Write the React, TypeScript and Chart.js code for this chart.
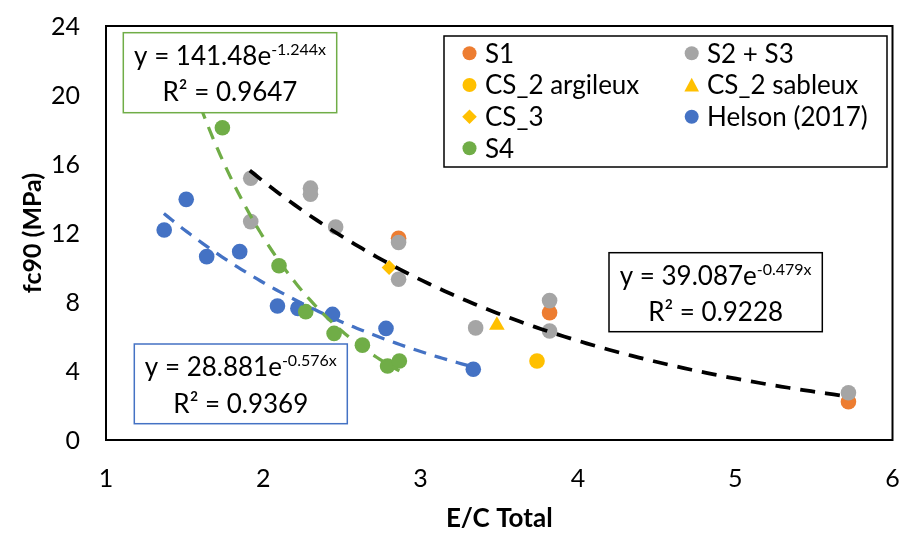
import React, { useEffect, useRef } from "react";
import { Chart, registerables } from "chart.js";

Chart.register(...registerables);

// ---- data ----
const S1_X = [2.86, 3.82, 5.72];
const S1_Y = [11.7, 7.38, 2.22];
const S23_X = [1.92, 1.92, 2.3, 2.3, 2.46, 2.86, 2.86, 3.35, 3.82, 3.82, 5.72];
const S23_Y = [15.17, 12.66, 14.6, 14.25, 12.35, 11.45, 9.32, 6.5, 8.08, 6.32, 2.74];
const CS2A_X = [3.74];
const CS2A_Y = [4.58];
const CS2S_X = [3.485];
const CS2S_Y = [6.65];
const CS3_X = [2.8];
const CS3_Y = [10.0];
const HEL_X = [1.37, 1.51, 1.64, 1.85, 2.09, 2.22, 2.44, 2.78, 3.335];
const HEL_Y = [12.17, 13.95, 10.63, 10.92, 7.77, 7.63, 7.28, 6.47, 4.1];
const S4_X = [1.74, 2.1, 2.27, 2.45, 2.63, 2.79, 2.865];
const S4_Y = [18.1, 10.1, 7.44, 6.18, 5.5, 4.29, 4.58];

// exponential trendlines y = a * e^(b x), as printed on the chart
const TREND_NAMES = ["S4 fit", "Helson fit", "S fit"];
const TREND_A = [141.48, 28.881, 39.087];
const TREND_B = [-1.244, -0.576, -0.479];
const TREND_R2 = ["0.9647", "0.9369", "0.9228"];
const TREND_FROM = [1.6, 1.368, 1.914];
const TREND_TO = [2.865, 3.335, 5.72];
const TREND_COLORS = ["#70AD47", "#4472C4", "#000000"];

const X_TICKS = [1, 2, 3, 4, 5, 6];
const Y_TICKS = [0, 4, 8, 12, 16, 20, 24];

const FONT = "Lato";

function pts(xs: number[], ys: number[]) {
  return xs.map((x, i) => ({ x, y: ys[i] }));
}

function trendPts(i: number) {
  const out: { x: number; y: number }[] = [];
  const n = 80;
  for (let k = 0; k <= n; k++) {
    const x = TREND_FROM[i] + ((TREND_TO[i] - TREND_FROM[i]) * k) / n;
    out.push({ x, y: TREND_A[i] * Math.exp(TREND_B[i] * x) });
  }
  return out;
}

type Marker = "circle" | "triangle" | "rectRot";

function drawMarker(ctx: CanvasRenderingContext2D, kind: Marker, x: number, y: number, r: number, color: string) {
  ctx.save();
  ctx.fillStyle = color;
  ctx.beginPath();
  if (kind === "circle") {
    ctx.arc(x, y, r, 0, Math.PI * 2);
  } else if (kind === "triangle") {
    ctx.moveTo(x, y - r);
    ctx.lineTo(x + r, y + r * 0.9);
    ctx.lineTo(x - r, y + r * 0.9);
    ctx.closePath();
  } else {
    ctx.moveTo(x, y - r);
    ctx.lineTo(x + r, y);
    ctx.lineTo(x, y + r);
    ctx.lineTo(x - r, y);
    ctx.closePath();
  }
  ctx.fill();
  ctx.restore();
}

const LEGEND_ITEMS: { label: string; color: string; marker: Marker }[] = [
  { label: "S1", color: "#ED7D31", marker: "circle" },
  { label: "S2 + S3", color: "#A5A5A5", marker: "circle" },
  { label: "CS_2 argileux", color: "#FFC000", marker: "circle" },
  { label: "CS_2 sableux", color: "#FFC000", marker: "triangle" },
  { label: "CS_3", color: "#FFC000", marker: "rectRot" },
  { label: "Helson (2017)", color: "#4472C4", marker: "circle" },
  { label: "S4", color: "#70AD47", marker: "circle" },
];

// equation boxes: [left, top, right, bottom] in pixels, per trendline
const EQ_BOXES = [
  [123.3, 32.7, 336.7, 112.7],
  [134.3, 344, 347.3, 423.7],
  [609, 252.7, 822.3, 331.7],
];

const overlayPlugin = {
  id: "overlay",
  beforeDatasetsDraw(chart: any) {
    const { ctx, chartArea } = chart;
    ctx.save();
    ctx.strokeStyle = "#000";
    ctx.lineWidth = 2;
    ctx.strokeRect(chartArea.left, chartArea.top, chartArea.right - chartArea.left, chartArea.bottom - chartArea.top);
    // tick labels
    const xs = chart.scales.x;
    const ys = chart.scales.y;
    ctx.fillStyle = "#000";
    ctx.font = `25px ${FONT}`;
    ctx.textBaseline = "middle";
    ctx.textAlign = "right";
    Y_TICKS.forEach((v) => ctx.fillText(String(v), chartArea.left - 26, ys.getPixelForValue(v) + 1));
    ctx.textAlign = "center";
    X_TICKS.forEach((v) => ctx.fillText(String(v), xs.getPixelForValue(v), chartArea.bottom + 39));
    ctx.restore();
  },
  afterDatasetsDraw(chart: any) {
    const { ctx } = chart;
    // equation boxes
    for (let i = 0; i < 3; i++) {
      const [l, t, r, b] = EQ_BOXES[i];
      ctx.save();
      ctx.fillStyle = "#fff";
      ctx.fillRect(l, t, r - l, b - t);
      ctx.strokeStyle = TREND_COLORS[i];
      ctx.lineWidth = 1.5;
      ctx.strokeRect(l, t, r - l, b - t);
      const cx = (l + r) / 2;
      const main = `y = ${TREND_A[i]}e`;
      const sup = `${TREND_B[i]}x`;
      ctx.fillStyle = "#000";
      ctx.textBaseline = "alphabetic";
      ctx.textAlign = "left";
      ctx.font = `26px ${FONT}`;
      const w1 = ctx.measureText(main).width;
      ctx.font = `16px ${FONT}`;
      const w2 = ctx.measureText(sup).width;
      const sx = cx - (w1 + w2) / 2;
      const base1 = t + 32.3;
      ctx.font = `26px ${FONT}`;
      ctx.fillText(main, sx, base1);
      ctx.font = `16px ${FONT}`;
      ctx.fillText(sup, sx + w1, base1 - 10.5);
      ctx.font = `26px ${FONT}`;
      ctx.textAlign = "center";
      ctx.fillText(`R² = ${TREND_R2[i]}`, cx, t + 68.5);
      ctx.restore();
    }
    // legend
    ctx.save();
    const L = 444, T = 36, R = 887, B = 167;
    ctx.fillStyle = "#fff";
    ctx.fillRect(L, T, R - L, B - T);
    ctx.strokeStyle = "#000";
    ctx.lineWidth = 1.5;
    ctx.strokeRect(L, T, R - L, B - T);
    ctx.font = `26px ${FONT}`;
    ctx.textAlign = "left";
    ctx.textBaseline = "middle";
    ctx.fillStyle = "#000";
    const colMarker = [469.5, 691.7];
    const colText = [485, 707];
    const rows = [53.3, 85, 116.7, 148.3];
    LEGEND_ITEMS.forEach((it, k) => {
      const c = k % 2;
      const rI = Math.floor(k / 2);
      const y = rows[rI];
      const r = it.marker === "circle" ? 7 : 7.3;
      drawMarker(ctx, it.marker, colMarker[c], y, r, it.color);
      ctx.fillStyle = "#000";
      ctx.fillText(it.label, colText[c], y + 1);
    });
    ctx.restore();
  },
};

export default function App() {
  const ref = useRef<HTMLCanvasElement | null>(null);
  useEffect(() => {
    document.body.style.margin = "0";
    const canvas = ref.current!;
    const mk = (label: string, xs: number[], ys: number[], color: string, style: string, radius: number, order: number) => ({
      type: "scatter" as const,
      label,
      data: pts(xs, ys),
      backgroundColor: color,
      borderColor: color,
      borderWidth: 0,
      pointStyle: style,
      pointRadius: radius,
      pointHoverRadius: radius,
      order,
    });
    const datasets: any[] = [
      mk("S1", S1_X, S1_Y, "#ED7D31", "circle", 7.8, 10),
      mk("S2 + S3", S23_X, S23_Y, "#A5A5A5", "circle", 7.8, 9),
      mk("CS_2 argileux", CS2A_X, CS2A_Y, "#FFC000", "circle", 7.8, 8),
      mk("CS_2 sableux", CS2S_X, CS2S_Y, "#FFC000", "triangle", 9, 7),
      mk("CS_3", CS3_X, CS3_Y, "#FFC000", "rectRot", 7.5, 6),
      mk("Helson (2017)", HEL_X, HEL_Y, "#4472C4", "circle", 7.8, 5),
      mk("S4", S4_X, S4_Y, "#70AD47", "circle", 7.8, 4),
    ];
    TREND_NAMES.forEach((name, i) => {
      const black = i === 2;
      datasets.push({
        type: "line",
        label: name,
        data: trendPts(i),
        borderColor: TREND_COLORS[i],
        backgroundColor: TREND_COLORS[i],
        borderWidth: black ? 3.75 : 3.25,
        borderDash: black ? [15, 10] : [13, 9],
        borderCapStyle: "butt",
        pointRadius: 0,
        fill: false,
        tension: 0,
        order: 1,
      });
    });
    const chart = new Chart(canvas, {
      type: "scatter",
      data: { datasets },
      options: {
        animation: false,
        responsive: false,
        devicePixelRatio: 1,
        layout: { padding: { top: 26, right: 11.5, left: 0, bottom: 0 } },
        plugins: { legend: { display: false }, tooltip: { enabled: false } },
        scales: {
          x: {
            type: "linear",
            min: 1,
            max: 6,
            afterBuildTicks: (s: any) => {
              s.ticks = X_TICKS.map((v) => ({ value: v }));
            },
            afterFit: (s: any) => {
              s.height = 94;
            },
            ticks: { display: false },
            grid: { display: false, drawTicks: false },
            border: { display: false },
            title: {
              display: true,
              text: "E/C Total",
              color: "#000",
              font: { family: FONT, size: 26, weight: "bold" },
              padding: { top: 0, bottom: 0 },
            },
          },
          y: {
            type: "linear",
            min: 0,
            max: 24,
            afterBuildTicks: (s: any) => {
              s.ticks = Y_TICKS.map((v) => ({ value: v }));
            },
            afterFit: (s: any) => {
              s.width = 106;
            },
            ticks: { display: false },
            grid: { display: false, drawTicks: false },
            border: { display: false },
            title: {
              display: true,
              text: "fc90 (MPa)",
              color: "#000",
              font: { family: FONT, size: 25, weight: "bold" },
              padding: { top: 18, bottom: 0 },
            },
          },
        },
      } as any,
      plugins: [overlayPlugin],
    });
    return () => chart.destroy();
  }, []);
  return (
    <div style={{ width: 904, height: 534 }}>
      <canvas ref={ref} width={904} height={534} style={{ display: "block" }} />
    </div>
  );
}
